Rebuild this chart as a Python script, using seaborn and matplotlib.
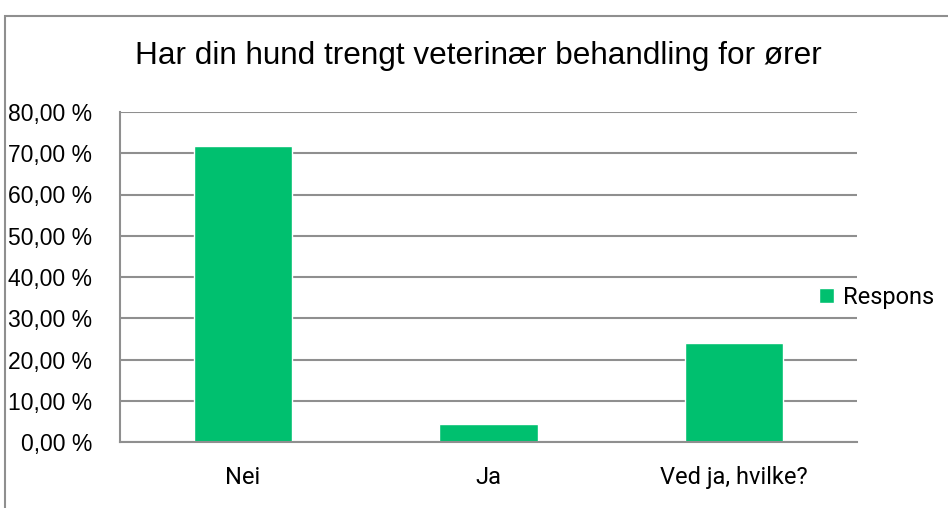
import matplotlib
matplotlib.use("Agg")
import matplotlib.pyplot as plt
import matplotlib.patches as mpatches
from matplotlib.ticker import FuncFormatter, MultipleLocator
import pandas as pd
import seaborn as sns

# data
kategorier = ["Nei", "Ja", "Ved ja, hvilke?"]
andel = [71.74, 4.35, 23.91]
serie = "Respons"
tittel = "Har din hund trengt veterinær behandling for ører"

df = pd.DataFrame({"kategori": kategorier, "andel": andel, "serie": serie})

sns.set_style("white")
plt.rcParams["font.family"] = ["Liberation Sans", "DejaVu Sans"]
plt.rcParams["text.color"] = "black"
plt.rcParams["xtick.labelcolor"] = "black"
plt.rcParams["ytick.labelcolor"] = "black"

gronn = "#00c06f"
graa = "#8f8f8f"

fig = plt.figure(figsize=(9.48, 5.08), dpi=100)
ax = fig.add_axes([120 / 948, 1 - 442 / 508, 737 / 948, 330 / 508])

sns.barplot(data=df, x="kategori", y="andel", hue="serie", palette=[gronn],
            width=0.4, ax=ax, saturation=1, legend=True)

ax.set_ylim(0, 80)
ax.set_xlim(-0.5, 2.5)
ax.yaxis.set_major_locator(MultipleLocator(10))
ax.yaxis.set_major_formatter(FuncFormatter(lambda v, p: f"{v:.2f}".replace(".", ",") + " %"))
ax.grid(axis="y", color=graa, lw=1.5)
ax.set_axisbelow(True)
ax.set_xlabel("")
ax.set_ylabel("")

for s in ["top", "right"]:
    ax.spines[s].set_visible(False)
for s in ["left", "bottom"]:
    ax.spines[s].set_color(graa)
    ax.spines[s].set_linewidth(1.5)

# category boundary ticks on x axis
ax.set_xticks([-0.5, 0.5, 1.5, 2.5], minor=True)
ax.tick_params(axis="x", which="minor", length=6, width=1.5, color=graa, direction="out")
ax.tick_params(axis="x", which="major", length=0, pad=17)
ax.tick_params(axis="y", length=6, width=1.5, color=graa, pad=14)
for lab in ax.get_yticklabels():
    lab.set_fontsize(16.5)
for lab in ax.get_xticklabels():
    lab.set_fontsize(17)
    lab.set_family(["Roboto", "DejaVu Sans"])

leg = ax.legend(loc="center left", bbox_to_anchor=(0.933, 0.439), frameon=False,
                borderpad=0, handlelength=0.6, handleheight=0.6, handletextpad=0.4,
                prop={"family": ["Roboto"], "size": 17})

fig.text(478 / 948, 1 - 56 / 508, tittel, ha="center", va="center", fontsize=22.7)

# outer chart frame
fig.patches.append(mpatches.Rectangle((5 / 948, -0.1), 1.2, 1 - 16 / 508 + 0.1,
                                      transform=fig.transFigure, fill=False,
                                      edgecolor=graa, lw=1.5))

fig.savefig("out.png", dpi=100)
